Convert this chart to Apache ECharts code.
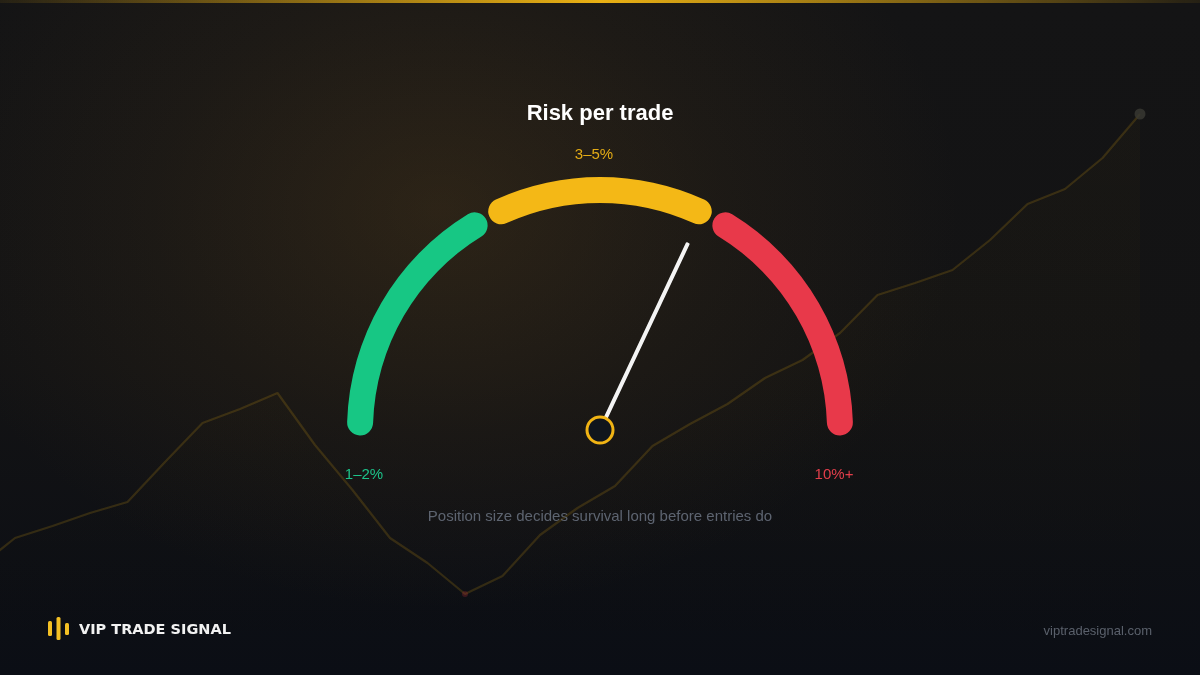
<!DOCTYPE html>
<html>
<head>
<meta charset="utf-8">
<script src="https://cdn.jsdelivr.net/npm/echarts@6/dist/echarts.min.js"></script>
<style>
  html, body { margin: 0; padding: 0; width: 1200px; height: 675px; overflow: hidden; }
  #chart {
    width: 1200px; height: 675px;
    background:
      radial-gradient(ellipse 520px 400px at 440px 210px, rgba(110,78,30,0.28) 0%, rgba(110,78,30,0.10) 55%, rgba(110,78,30,0) 100%),
      linear-gradient(180deg, #141415 0%, #131314 55%, #0b0e15 100%);
  }
</style>
</head>
<body>
<div id="chart"></div>
<script>
// ---- Data ----
const titleText = 'Risk per trade';
const subtitleText = 'Position size decides survival long before entries do';
const bandLabels = ['1–2%', '3–5%', '10%+'];
const bandFrom = [1, 36.5, 67.5];     // gauge scale 0..100
const bandTo = [32.5, 63.5, 99];
const needleValue = 64;               // gauge scale 0..100
const brandName = 'VIP TRADE SIGNAL';
const siteUrl = 'viptradesignal.com';

// background equity curve (index 0 lies just off the left edge)
const equityIndex = [0,1,2,3,4,5,6,7,8,9,10,11,12,13,14,15,16,17,18,19,20,21,22,23,24,25,26,27,28,29,30,31];
const equityValues = [107,137,149,162,173,213,252,266,282,230,185,137,112,81,99,140,167,189,229,251,271,297,315,342,380,392,405,435,471,486,517,561];

// ---- Styles ----
const bandColors = ['#17c784', '#f4b816', '#e8394a'];
const labelColors = ['#1cc289', '#e3ab15', '#e23d4b'];
const FONT = '"Liberation Sans", Arial, Helvetica, sans-serif';
const CX = 600, CY = 430, R = 253, W = 26;

const chart = echarts.init(document.getElementById('chart'), null, { renderer: 'canvas' });

const bandSeries = bandLabels.map((lab, i) => ({
  type: 'gauge',
  name: lab,
  center: [CX, CY],
  radius: R,
  startAngle: 180 - bandFrom[i] * 1.8,
  endAngle: 180 - bandTo[i] * 1.8,
  min: bandFrom[i],
  max: bandTo[i],
  silent: true,
  z: 3,
  axisLine: { show: true, roundCap: true, lineStyle: { width: W, color: [[1, bandColors[i]]] } },
  splitLine: { show: false },
  axisTick: { show: false },
  axisLabel: { show: false },
  pointer: { show: false },
  anchor: { show: false },
  title: { show: false },
  detail: { show: false },
  data: [{ value: bandFrom[i], name: lab }]
}));

const minIdx = equityValues.indexOf(Math.min(...equityValues));
const lastIdx = equityValues.length - 1;

const option = {
  backgroundColor: 'transparent',
  animation: false,
  title: [
    { text: titleText, left: 'center', top: 98,
      textStyle: { color: '#ffffff', fontFamily: FONT, fontSize: 22, fontWeight: 'bold' } },
    { text: subtitleText, left: 'center', top: 504,
      textStyle: { color: '#5d6470', fontFamily: FONT, fontSize: 15, fontWeight: 'normal' } }
  ],
  grid: { left: 0, right: 0, top: 0, bottom: 0, containLabel: false },
  xAxis: { type: 'value', min: 0.6, max: 32.6, show: false },
  yAxis: { type: 'value', min: 0, max: 675, show: false },
  series: [
    {
      type: 'line',
      data: equityIndex.map((x, i) => [x, equityValues[i]]),
      showSymbol: false,
      silent: true,
      z: 1,
      lineStyle: { color: 'rgba(235,180,20,0.17)', width: 2.2 },
      areaStyle: {
        color: new echarts.graphic.LinearGradient(0, 0, 0, 1, [
          { offset: 0, color: 'rgba(245,185,20,0.035)' },
          { offset: 1, color: 'rgba(245,185,20,0.0)' }
        ]),
        origin: 'start'
      }
    },
    {
      type: 'scatter',
      silent: true,
      z: 2,
      data: [
        { value: [equityIndex[lastIdx], equityValues[lastIdx]], symbolSize: 11, itemStyle: { color: '#3a3933' } },
        { value: [equityIndex[minIdx], equityValues[minIdx]], symbolSize: 6, itemStyle: { color: 'rgba(200,50,60,0.3)' } }
      ]
    },
    ...bandSeries,
    {
      type: 'gauge',
      center: [CX, CY],
      radius: R,
      startAngle: 180,
      endAngle: 0,
      min: 0,
      max: 100,
      silent: true,
      z: 5,
      axisLine: { show: false },
      splitLine: { show: false },
      axisTick: { show: false },
      axisLabel: { show: false },
      pointer: { show: true, icon: 'roundRect', length: 207, width: 4, offsetCenter: [0, 0],
        itemStyle: { color: '#f4f4f4' } },
      anchor: { show: true, showAbove: true, size: 26, icon: 'circle',
        itemStyle: { color: '#10151c', borderColor: '#f1b414', borderWidth: 3 } },
      title: { show: false },
      detail: { show: false },
      data: [{ value: needleValue }]
    }
  ],
  graphic: [
    // top accent line
    { type: 'rect', left: 0, top: 0, shape: { width: 1200, height: 3 }, silent: true,
      style: { fill: new echarts.graphic.LinearGradient(0, 0, 1, 0, [
        { offset: 0, color: 'rgba(245,185,20,0.08)' },
        { offset: 0.5, color: 'rgba(245,185,20,0.95)' },
        { offset: 1, color: 'rgba(245,185,20,0.08)' }
      ]) } },
    // band labels
    { type: 'text', x: 364, y: 475, silent: true,
      style: { text: bandLabels[0], fill: labelColors[0], font: '15px ' + FONT, align: 'center', verticalAlign: 'middle' } },
    { type: 'text', x: 594, y: 155, silent: true,
      style: { text: bandLabels[1], fill: labelColors[1], font: '15px ' + FONT, align: 'center', verticalAlign: 'middle' } },
    { type: 'text', x: 834, y: 475, silent: true,
      style: { text: bandLabels[2], fill: labelColors[2], font: '15px ' + FONT, align: 'center', verticalAlign: 'middle' } },
    // brand logo bars
    { type: 'rect', shape: { x: 48, y: 621, width: 4, height: 15, r: 1.5 }, silent: true, style: { fill: '#f4c024' } },
    { type: 'rect', shape: { x: 56.5, y: 617, width: 4, height: 23, r: 1.5 }, silent: true, style: { fill: '#f4c024' } },
    { type: 'rect', shape: { x: 65, y: 623, width: 4, height: 12, r: 1.5 }, silent: true, style: { fill: '#f4c024' } },
    { type: 'text', x: 79, y: 630, silent: true,
      style: { text: brandName, fill: '#f2f2f2', font: 'bold 14.5px "DejaVu Sans", ' + FONT, align: 'left', verticalAlign: 'middle' } },
    { type: 'text', x: 1152, y: 631, silent: true,
      style: { text: siteUrl, fill: '#5a606b', font: '13px ' + FONT, align: 'right', verticalAlign: 'middle' } }
  ]
};

chart.setOption(option);
</script>
</body>
</html>
